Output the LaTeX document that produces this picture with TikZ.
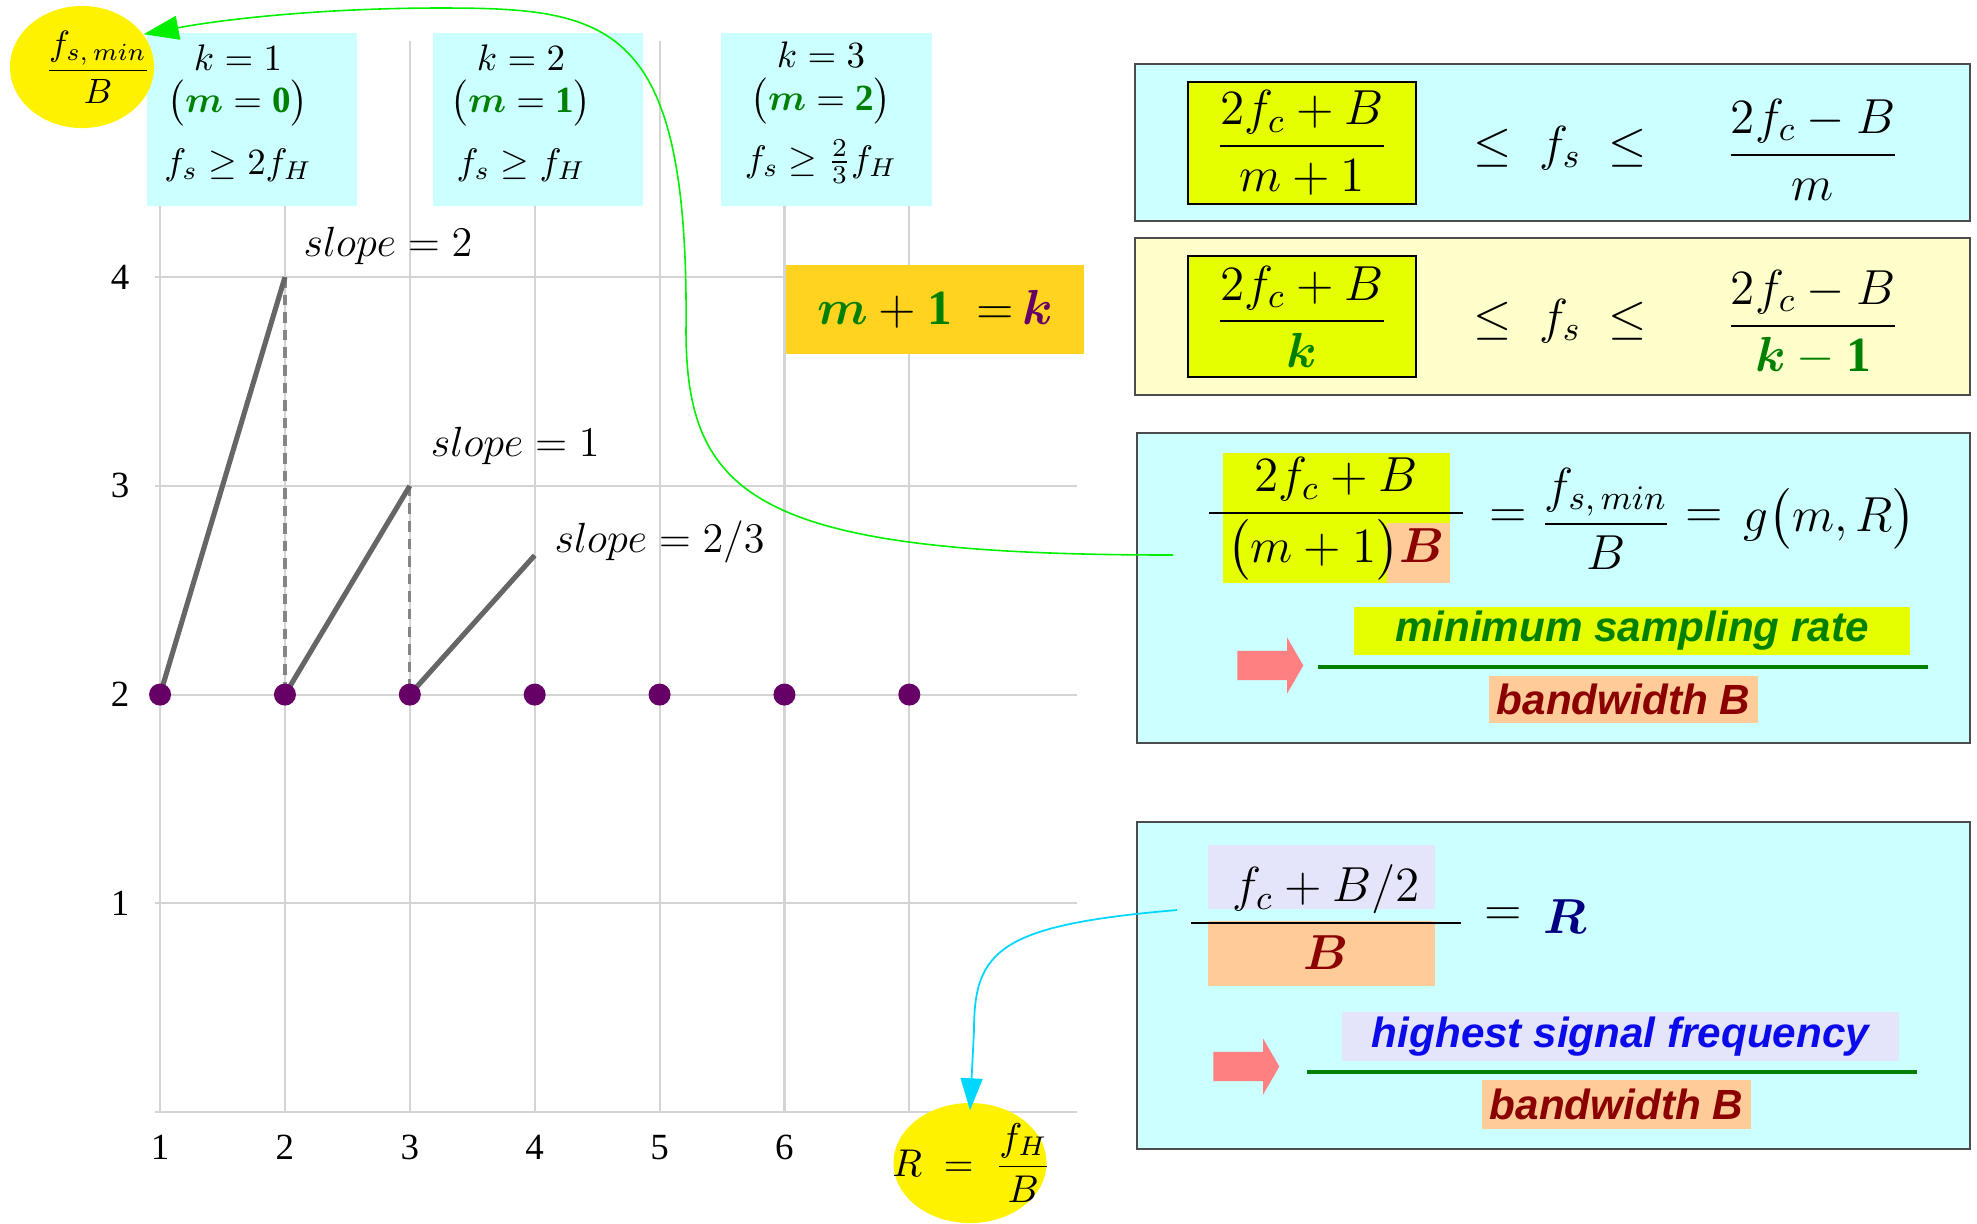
\RequirePackage{fix-cm}
\documentclass[tikz,border=0pt]{standalone}
\usepackage{amsmath,bm}
\usepackage{fontspec}
\setmainfont{Liberation Serif}
\newfontfamily\labelsans{Liberation Sans}
\usepackage{tikz}
\usetikzlibrary{arrows.meta,positioning,calc,shapes.geometric,shapes.arrows}
\definecolor{paleCyan}{RGB}{204,255,255}
\definecolor{paleYellow}{RGB}{255,255,204}
\definecolor{hlYellow}{RGB}{229,255,0}
\definecolor{peach}{RGB}{255,204,153}
\definecolor{hlLav}{RGB}{228,228,250}
\definecolor{mkGold}{RGB}{255,211,32}
\definecolor{plum}{RGB}{102,0,102}
\definecolor{salmon}{RGB}{255,128,128}
\definecolor{wine}{RGB}{139,0,0}
\definecolor{leaf}{RGB}{0,128,0}
\definecolor{ink}{RGB}{0,0,128}
\definecolor{signal}{RGB}{10,10,235}
\definecolor{neon}{RGB}{0,240,0}
\definecolor{aqua}{RGB}{0,215,255}
\definecolor{gridgray}{RGB}{212,212,212}
\definecolor{seggray}{RGB}{102,102,102}
\newcommand{\gm}{\textcolor{leaf}{\bm{m}}}
\newcommand{\gk}{\textcolor{leaf}{\bm{k}}}
\tikzset{
  gridline/.style={draw=gridgray,line width=0.6pt},
  seg/.style={draw=seggray,line width=1.45pt},
  drop/.style={draw=seggray!80,line width=0.9pt,dash pattern=on 3pt off 2pt},
  kdot/.style={circle,fill=plum,inner sep=0pt,minimum size=0.22cm},
  axislab/.style={font=\fontsize{10.5}{12}\selectfont},
  kbox/.style={fill=paleCyan,minimum width=2.1cm,minimum height=1.73cm},
  klab/.style={align=center,font=\fontsize{10.5}{12}\selectfont},
  panel/.style={draw=black!70,line width=0.6pt,minimum width=8.33cm},
  hl/.style={inner sep=0pt,outer sep=0pt},
  formula/.style={font=\fontsize{14}{17}\selectfont},
  words/.style={font=\labelsans\fontsize{12}{14}\selectfont\bfseries\itshape},
  bubble/.style={ellipse,fill=yellow,inner sep=0pt},
  cue/.style={single arrow,fill=salmon,inner sep=0pt,minimum height=0.66cm,
              single arrow head extend=0.135cm,single arrow tip angle=120},
  wordbar/.style={draw=leaf,line width=0.95pt},
  greenflow/.style={-{Triangle[length=0.35cm,width=0.24cm]},draw=neon,line width=0.45pt},
  cyanflow/.style={-{Triangle[length=0.32cm,width=0.22cm]},draw=aqua,line width=0.5pt}
}

\begin{document}
\begin{tikzpicture}[x=0.01cm,y=-0.01cm,font=\fontsize{12}{14}\selectfont]
  \useasboundingbox (0,0) rectangle (1977,1223);

  % sampling plot
  \begin{scope}[shift={(35.2,1112)},x=1.248cm,y=2.086cm]
    \foreach \i in {1,...,7} \draw[gridline] (\i,0) -- (\i,5.13);
    \foreach \j in {0,...,4} \draw[gridline] (0.96,\j) -- (8.34,\j);
    \foreach \j in {1,...,4} \node[axislab] (ylab\j) at (0.68,\j) {\j};
    \foreach \i in {1,...,6} \node[axislab] (xlab\i) at (\i,-0.17) {\i};
    \coordinate (top1) at (2,4);
    \coordinate (top2) at (3,3);
    \coordinate (top3) at (4,2.667);
    \coordinate (foot2) at (2,2);
    \coordinate (foot3) at (3,2);
    \draw[drop] (top1) -- (foot2);
    \draw[drop] (top2) -- (foot3);
    \draw[seg] (1,2) -- (top1);
    \draw[seg] (foot2) -- (top2);
    \draw[seg] (foot3) -- (top3);
    \foreach \i in {1,...,7} \node[kdot] (p\i) at (\i,2) {};
    \node[anchor=west] (s2) at (2.05,4.15) {$slope = 2$};
    \node[anchor=west] (s1) at (3.07,3.19) {$slope = 1$};
    \node[anchor=west] (s23) at (4.06,2.73) {$slope = 2/3$};
  \end{scope}

  % k boxes on top
  \node[kbox] (k1) at (252,119.5) {};
  \node[kbox] (k2) at (538,119.5) {};
  \node[kbox] (k3) at (826.5,119.5) {};
  \node[klab] (k1lab) at (238,113)
    {$k = 1$\\ $\bigl(\gm = \textcolor{leaf}{\mathbf{0}}\bigr)$\\[5.5pt] $f_s \ge 2f_H$};
  \node[klab] (k2lab) at (521,113)
    {$k = 2$\\ $\bigl(\gm = \textcolor{leaf}{\mathbf{1}}\bigr)$\\[5.5pt] $f_s \ge f_H$};
  \node[klab] (k3lab) at (821,113)
    {$k = 3$\\ $\bigl(\gm = \textcolor{leaf}{\mathbf{2}}\bigr)$\\[3.5pt] $f_s \ge \tfrac{2}{3}f_H$};
  \node[bubble,minimum width=1.44cm,minimum height=1.22cm] (fsmin) at (82,67) {};
  \node[font=\fontsize{10}{12}\selectfont] (fsminlab) at (98,67) {$\dfrac{f_{s,\,min}}{B}$};

  \node[fill=mkGold,minimum width=2.98cm,minimum height=0.89cm,formula] (mk) at (935,309.5)
    {$\gm + \textcolor{leaf}{\mathbf{1}}\ \ {=}\,\textcolor{plum}{\bm{k}}$};

  % right panels
  \node[panel,fill=paleCyan,minimum width=8.35cm,minimum height=1.57cm] (pA) at (1552.5,142.5) {};
  \node[panel,fill=paleYellow,minimum width=8.35cm,minimum height=1.57cm] (pB) at (1552.5,316.5) {};
  \node[panel,fill=paleCyan,minimum height=3.1cm] (pC) at (1553.5,588) {};
  \node[panel,fill=paleCyan,minimum height=3.27cm] (pD) at (1553.5,985.5) {};

  \node[hl,draw=black,line width=0.5pt,fill=hlYellow,minimum width=2.28cm,minimum height=1.22cm,formula]
    (hA) at (1302,143) {$\dfrac{2f_c+B}{m+1}$};
  \node[formula] (leA) at (1560,148) {$\le\; f_s\; \le$};
  \node[formula] (rA) at (1813,150) {$\dfrac{2f_c-B}{m}$};

  \node[hl,draw=black,line width=0.5pt,fill=hlYellow,minimum width=2.28cm,minimum height=1.21cm,formula]
    (hB) at (1302,316.5) {$\dfrac{2f_c+B}{\gk}$};
  \node[formula] (leB) at (1560,321) {$\le\; f_s\; \le$};
  \node[formula] (rB) at (1813,323) {$\dfrac{2f_c-B}{\textcolor{leaf}{\bm{k}-\mathbf{1}}}$};

  \node[hl,fill=hlYellow,minimum width=2.27cm,minimum height=1.3cm] (hC1) at (1336.5,518) {};
  \node[hl,fill=peach,minimum width=0.63cm,minimum height=0.6cm] (hC2) at (1418.5,553) {};
  \node[formula] (frC) at (1336,519)
    {$\dfrac{\makebox[2.53cm]{$\displaystyle 2f_c+B$}}{\bigl(m+1\bigr)\textcolor{wine}{\bm{B}}}$};
  \node[formula] (eqC1) at (1508,519) {$=$};
  \node[formula] (fsC) at (1606,519) {$\dfrac{f_{s,\,min}}{B}$};
  \node[formula] (eqC2) at (1704,519) {$=$};
  \node[formula] (gC) at (1830,519) {$g\bigl(m,R\bigr)$};

  \node[cue] (cue1) at (1266,665.5) {\rule{0pt}{0.28cm}};
  \node[hl,fill=hlYellow,minimum width=5.56cm,minimum height=0.48cm,words,text=leaf]
    (minrate) at (1632,631) {minimum sampling rate};
  \draw[wordbar] (1318,667) -- (1928,667);
  \node[hl,fill=peach,minimum width=2.69cm,minimum height=0.47cm,words,text=wine]
    (bwC) at (1623.5,699.5) {bandwidth B};

  \node[hl,fill=hlLav,minimum width=2.27cm,minimum height=0.64cm] (hD1) at (1321.5,877) {};
  \node[hl,fill=peach,minimum width=2.27cm,minimum height=0.65cm] (hD2) at (1321.5,953.5) {};
  \node[formula] (frD) at (1326,917)
    {$\dfrac{\makebox[2.69cm]{$\displaystyle f_c+B/2$}}{\textcolor{wine}{\bm{B}}}$};
  \node[formula] (eqD) at (1503,917) {$=$};
  \node[formula] (rD) at (1565,917) {$\textcolor{ink}{\bm{R}}$};

  \node[cue] (cue2) at (1242,1066.5) {\rule{0pt}{0.28cm}};
  \node[hl,fill=hlLav,minimum width=5.57cm,minimum height=0.49cm,words,text=signal]
    (hisig) at (1620.5,1036.5) {highest signal frequency};
  \draw[wordbar] (1307,1072) -- (1917,1072);
  \node[hl,fill=peach,minimum width=2.69cm,minimum height=0.49cm,words,text=wine]
    (bwD) at (1616.5,1104.5) {bandwidth B};

  \node[bubble,minimum width=1.53cm,minimum height=1.2cm] (Rell) at (970,1163) {};
  \node[font=\fontsize{11}{13}\selectfont] (Rlab) at (972,1163) {$R\;=\;\dfrac{f_H}{B}$};

  % connectors
  \coordinate (gstart) at (1173,555);
  \coordinate (cstart) at (1177,910);
  \draw[greenflow] (gstart) .. controls (760,555) and (686,500) .. (686,330)
    .. controls (689,20) and (610,8) .. (440,8) .. controls (330,8) and (230,18) .. (fsmin.28);
  \draw[cyanflow] (cstart) .. controls (1000,925) and (974,950) .. (974,1030)
    -- ([yshift=-0.08cm]Rell.north);
\end{tikzpicture}
\end{document}
